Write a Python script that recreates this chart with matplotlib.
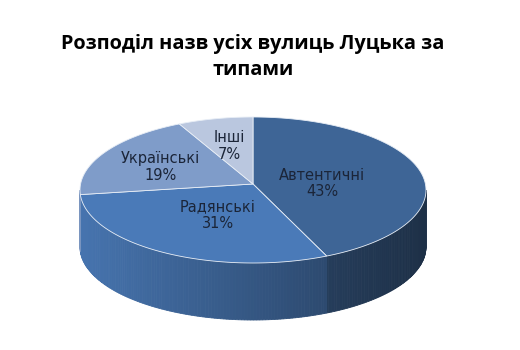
import matplotlib
matplotlib.use("Agg")
import matplotlib.pyplot as plt
import numpy as np
from matplotlib.patches import Polygon

# data
categories = ["Автентичні", "Радянські", "Українські", "Інші"]
shares = [43, 31, 19, 7]
top_colors = ["#3E6596", "#4A7AB8", "#7F9CC9", "#BAC7DF"]
title = "Розподіл назв усіх вулиць Луцька за\nтипами"

# layout (pixel coords, y down)
cx, cy = 253, 190
a, b = 173, 73
depth = 57
apex_dy = -6          # slices meet a bit above ellipse centre (perspective)
label_r = [0.41, 0.40, 0.62, 0.62]


def pt(theta, dy=0.0):
    t = np.radians(theta)
    return cx + a * np.sin(t), cy - b * np.cos(t) + dy


def shade(color, f):
    rgb = np.array(matplotlib.colors.to_rgb(color))
    return tuple(np.clip(rgb * f, 0, 1))


fig = plt.figure(figsize=(5.2, 3.5), dpi=100)
ax = fig.add_axes([0, 0, 1, 1])
ax.set_xlim(0, 520)
ax.set_ylim(350, 0)
ax.axis("off")

fracs = np.array(shares, dtype=float) / sum(shares)
edges = np.concatenate([[0], np.cumsum(fracs)]) * 360

# side wall (front half only), drawn in thin strips for shading
for i, col in enumerate(top_colors):
    lo, hi = max(edges[i], 90), min(edges[i + 1], 270)
    if hi <= lo:
        continue
    steps = np.arange(lo, hi, 1.0).tolist() + [hi]
    for t0, t1 in zip(steps[:-1], steps[1:]):
        x0, _ = pt(t0)
        xn = (x0 - (cx - a)) / (2 * a)
        f = 0.95 - 0.48 * xn
        ts = np.linspace(t0, t1, 4)
        top = [pt(t) for t in ts]
        bot = [pt(t, depth) for t in ts[::-1]]
        ax.add_patch(Polygon(top + bot, closed=True, facecolor=shade(col, f),
                             edgecolor=shade(col, f), linewidth=0.6))

# top surface
for i, col in enumerate(top_colors):
    ts = np.linspace(edges[i], edges[i + 1], 120)
    verts = [(cx, cy + apex_dy)] + [pt(t) for t in ts]
    ax.add_patch(Polygon(verts, closed=True, facecolor=col,
                         edgecolor="#E8EEF6", linewidth=0.6))

# labels
for i, name in enumerate(categories):
    mid = (edges[i] + edges[i + 1]) / 2
    t = np.radians(mid)
    lx = cx + a * label_r[i] * np.sin(t)
    ly = cy - b * label_r[i] * np.cos(t)
    ax.text(lx, ly, f"{name}\n{shares[i]}%", ha="center", va="center",
            fontsize=10.5, color="#1B2538", linespacing=1.15,
            family=["DejaVu Sans"])

ax.text(253, 57, title, ha="center", va="center", fontsize=14.3,
        fontweight="bold", family=["Open Sans", "DejaVu Sans"],
        color="black", linespacing=1.45)

fig.savefig("out.png", dpi=100)
